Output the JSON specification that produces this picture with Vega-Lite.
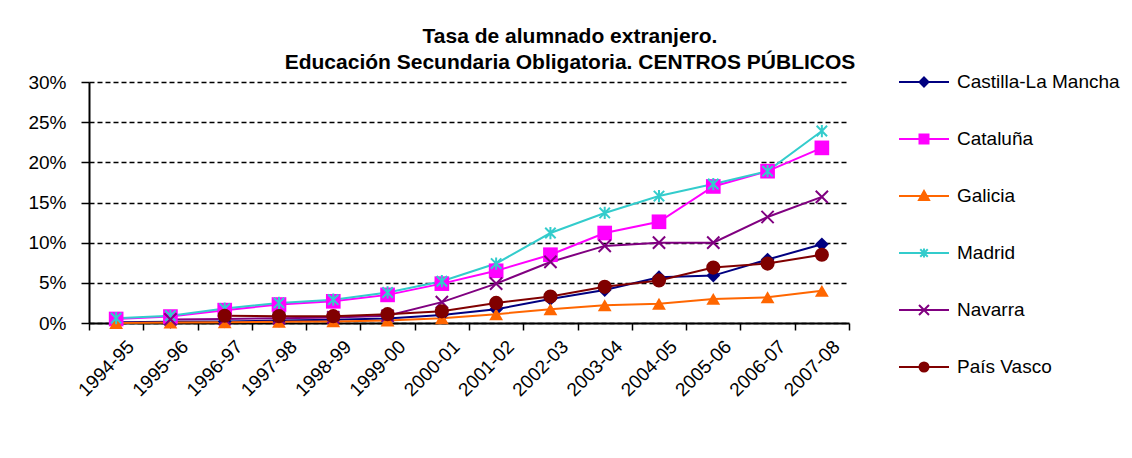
{
  "$schema": "https://vega.github.io/schema/vega-lite/v6.json",
  "width": 760,
  "height": 241,
  "autosize": {"type": "none"},
  "padding": {"left": 89, "top": 82, "right": 283, "bottom": 135},
  "background": "white",
  "title": {
    "text": ["Tasa de alumnado extranjero.", "Educación Secundaria Obligatoria. CENTROS PÚBLICOS"],
    "font": "Liberation Sans",
    "fontSize": 21,
    "fontWeight": "bold",
    "color": "black",
    "anchor": "middle",
    "frame": "group",
    "dx": 101,
    "lineHeight": 26,
    "baseline": "bottom",
    "offset": -38
  },
  "config": {
    "view": {"stroke": null},
    "axis": {"labelFont": "Liberation Sans", "labelColor": "black", "labelFontSize": 19}
  },
  "data": {
    "values": [
      {"region": "Castilla-La Mancha", "year": "1994-95", "rate": 0.001},
      {"region": "Castilla-La Mancha", "year": "1995-96", "rate": 0.0015},
      {"region": "Castilla-La Mancha", "year": "1996-97", "rate": 0.002},
      {"region": "Castilla-La Mancha", "year": "1997-98", "rate": 0.003},
      {"region": "Castilla-La Mancha", "year": "1998-99", "rate": 0.004},
      {"region": "Castilla-La Mancha", "year": "1999-00", "rate": 0.0055},
      {"region": "Castilla-La Mancha", "year": "2000-01", "rate": 0.010},
      {"region": "Castilla-La Mancha", "year": "2001-02", "rate": 0.017},
      {"region": "Castilla-La Mancha", "year": "2002-03", "rate": 0.030},
      {"region": "Castilla-La Mancha", "year": "2003-04", "rate": 0.041},
      {"region": "Castilla-La Mancha", "year": "2004-05", "rate": 0.057},
      {"region": "Castilla-La Mancha", "year": "2005-06", "rate": 0.059},
      {"region": "Castilla-La Mancha", "year": "2006-07", "rate": 0.079},
      {"region": "Castilla-La Mancha", "year": "2007-08", "rate": 0.098},
      {"region": "Cataluña", "year": "1994-95", "rate": 0.005},
      {"region": "Cataluña", "year": "1995-96", "rate": 0.008},
      {"region": "Cataluña", "year": "1996-97", "rate": 0.016},
      {"region": "Cataluña", "year": "1997-98", "rate": 0.023},
      {"region": "Cataluña", "year": "1998-99", "rate": 0.027},
      {"region": "Cataluña", "year": "1999-00", "rate": 0.035},
      {"region": "Cataluña", "year": "2000-01", "rate": 0.049},
      {"region": "Cataluña", "year": "2001-02", "rate": 0.065},
      {"region": "Cataluña", "year": "2002-03", "rate": 0.085},
      {"region": "Cataluña", "year": "2003-04", "rate": 0.112},
      {"region": "Cataluña", "year": "2004-05", "rate": 0.126},
      {"region": "Cataluña", "year": "2005-06", "rate": 0.170},
      {"region": "Cataluña", "year": "2006-07", "rate": 0.189},
      {"region": "Cataluña", "year": "2007-08", "rate": 0.218},
      {"region": "Galicia", "year": "1994-95", "rate": 0.0},
      {"region": "Galicia", "year": "1995-96", "rate": 0.0005},
      {"region": "Galicia", "year": "1996-97", "rate": 0.001},
      {"region": "Galicia", "year": "1997-98", "rate": 0.0015},
      {"region": "Galicia", "year": "1998-99", "rate": 0.002},
      {"region": "Galicia", "year": "1999-00", "rate": 0.003},
      {"region": "Galicia", "year": "2000-01", "rate": 0.006},
      {"region": "Galicia", "year": "2001-02", "rate": 0.011},
      {"region": "Galicia", "year": "2002-03", "rate": 0.017},
      {"region": "Galicia", "year": "2003-04", "rate": 0.022},
      {"region": "Galicia", "year": "2004-05", "rate": 0.024},
      {"region": "Galicia", "year": "2005-06", "rate": 0.030},
      {"region": "Galicia", "year": "2006-07", "rate": 0.032},
      {"region": "Galicia", "year": "2007-08", "rate": 0.040},
      {"region": "Madrid", "year": "1994-95", "rate": 0.006},
      {"region": "Madrid", "year": "1995-96", "rate": 0.009},
      {"region": "Madrid", "year": "1996-97", "rate": 0.018},
      {"region": "Madrid", "year": "1997-98", "rate": 0.025},
      {"region": "Madrid", "year": "1998-99", "rate": 0.029},
      {"region": "Madrid", "year": "1999-00", "rate": 0.038},
      {"region": "Madrid", "year": "2000-01", "rate": 0.052},
      {"region": "Madrid", "year": "2001-02", "rate": 0.074},
      {"region": "Madrid", "year": "2002-03", "rate": 0.112},
      {"region": "Madrid", "year": "2003-04", "rate": 0.137},
      {"region": "Madrid", "year": "2004-05", "rate": 0.158},
      {"region": "Madrid", "year": "2005-06", "rate": 0.173},
      {"region": "Madrid", "year": "2006-07", "rate": 0.189},
      {"region": "Madrid", "year": "2007-08", "rate": 0.239},
      {"region": "Navarra", "year": "1995-96", "rate": 0.0045},
      {"region": "Navarra", "year": "1996-97", "rate": 0.005},
      {"region": "Navarra", "year": "1997-98", "rate": 0.006},
      {"region": "Navarra", "year": "1998-99", "rate": 0.007},
      {"region": "Navarra", "year": "1999-00", "rate": 0.009},
      {"region": "Navarra", "year": "2000-01", "rate": 0.026},
      {"region": "Navarra", "year": "2001-02", "rate": 0.049},
      {"region": "Navarra", "year": "2002-03", "rate": 0.076},
      {"region": "Navarra", "year": "2003-04", "rate": 0.096},
      {"region": "Navarra", "year": "2004-05", "rate": 0.100},
      {"region": "Navarra", "year": "2005-06", "rate": 0.100},
      {"region": "Navarra", "year": "2006-07", "rate": 0.132},
      {"region": "Navarra", "year": "2007-08", "rate": 0.157},
      {"region": "País Vasco", "year": "1996-97", "rate": 0.009},
      {"region": "País Vasco", "year": "1997-98", "rate": 0.0085},
      {"region": "País Vasco", "year": "1998-99", "rate": 0.0085},
      {"region": "País Vasco", "year": "1999-00", "rate": 0.011},
      {"region": "País Vasco", "year": "2000-01", "rate": 0.0145},
      {"region": "País Vasco", "year": "2001-02", "rate": 0.025},
      {"region": "País Vasco", "year": "2002-03", "rate": 0.033},
      {"region": "País Vasco", "year": "2003-04", "rate": 0.045},
      {"region": "País Vasco", "year": "2004-05", "rate": 0.053},
      {"region": "País Vasco", "year": "2005-06", "rate": 0.069},
      {"region": "País Vasco", "year": "2006-07", "rate": 0.074},
      {"region": "País Vasco", "year": "2007-08", "rate": 0.085}
    ]
  },
  "encoding": {
    "x": {
      "field": "year",
      "type": "nominal",
      "sort": ["1994-95","1995-96","1996-97","1997-98","1998-99","1999-00","2000-01","2001-02","2002-03","2003-04","2004-05","2005-06","2006-07","2007-08"],
      "scale": {"type": "band", "paddingInner": 0, "paddingOuter": 0},
      "bandPosition": 0.5,
      "axis": {
        "title": null,
        "labelAngle": -45,
        "labelAlign": "right",
        "labelBaseline": "top",
        "labelPadding": 7,
        "labelOffset": 8,
        "labelOverlap": false,
        "tickBand": "extent",
        "tickSize": 7,
        "tickColor": "black",
        "tickWidth": 1.5,
        "domainColor": "black",
        "domainWidth": 2,
        "grid": false
      }
    },
    "y": {
      "field": "rate",
      "type": "quantitative",
      "scale": {"domain": [0, 0.3], "nice": false, "zero": true},
      "axis": {
        "title": null,
        "format": ".0%",
        "values": [0, 0.05, 0.1, 0.15, 0.2, 0.25, 0.3],
        "tickSize": 8,
        "tickColor": "black",
        "tickWidth": 1.5,
        "domainColor": "black",
        "domainWidth": 2,
        "labelPadding": 15,
        "grid": true,
        "gridColor": "black",
        "gridDash": [5, 3],
        "gridWidth": 1.5
      }
    },
    "color": {
      "field": "region",
      "type": "nominal",
      "scale": {
        "domain": ["Castilla-La Mancha", "Cataluña", "Galicia", "Madrid", "Navarra", "País Vasco"],
        "range": ["#000080", "#FF00FF", "#FF6600", "#33CCCC", "#800080", "#800000"]
      },
      "legend": {
        "title": null,
        "orient": "none",
        "legendX": 809,
        "legendY": -26,
        "padding": 0,
        "symbolSize": 2500,
        "symbolStrokeWidth": 2,
        "labelFont": "Liberation Sans",
        "labelFontSize": 19,
        "labelColor": "black",
        "labelOffset": 7,
        "labelLimit": 300,
        "rowPadding": 21,
        "encode": {
          "symbols": {
            "update": {
              "shape": {"signal": "datum.value === 'Castilla-La Mancha' ? 'M-1,0H1M0,-0.18L0.18,0L0,0.18L-0.18,0Z' : datum.value === 'Cataluña' ? 'M-1,0H1M-0.18,-0.18H0.18V0.18H-0.18Z' : datum.value === 'Galicia' ? 'M-1,0H1M0,-0.2L0.2,0.16L-0.2,0.16Z' : datum.value === 'Madrid' ? 'M-1,0H1M-0.15,-0.15L0.15,0.15M-0.15,0.15L0.15,-0.15M0,-0.18V0.18' : datum.value === 'Navarra' ? 'M-1,0H1M-0.2,-0.2L0.2,0.2M-0.2,0.2L0.2,-0.2' : 'M-1,0H1M0.18,0A0.18,0.18 0 1,1 -0.18,0A0.18,0.18 0 1,1 0.18,0Z'"},
              "fill": {"signal": "scale('color', datum.value)"},
              "stroke": {"signal": "scale('color', datum.value)"},
              "strokeWidth": {"value": 2},
              "size": {"value": 2500},
              "opacity": {"value": 1}
            }
          }
        }
      }
    }
  },
  "layer": [
    {"mark": {"type": "line", "strokeWidth": 2}},
    {
      "transform": [{"filter": "datum.region === 'Castilla-La Mancha'"}],
      "mark": {"type": "point", "shape": "diamond", "filled": true, "opacity": 1, "size": 190}
    },
    {
      "transform": [{"filter": "datum.region === 'Cataluña'"}],
      "mark": {"type": "point", "shape": "square", "filled": true, "opacity": 1, "size": 215}
    },
    {
      "transform": [{"filter": "datum.region === 'Galicia'"}],
      "mark": {"type": "point", "shape": "triangle-up", "filled": true, "opacity": 1, "size": 190}
    },
    {
      "transform": [{"filter": "datum.region === 'Madrid'"}],
      "mark": {"type": "point", "shape": "M-0.85,-0.85L0.85,0.85M-0.85,0.85L0.85,-0.85M0,-1V1", "filled": false, "opacity": 1, "size": 150, "strokeWidth": 2}
    },
    {
      "transform": [{"filter": "datum.region === 'Navarra'"}],
      "mark": {"type": "point", "shape": "M-1,-1L1,1M-1,1L1,-1", "filled": false, "opacity": 1, "size": 150, "strokeWidth": 2}
    },
    {
      "transform": [{"filter": "datum.region === 'País Vasco'"}],
      "mark": {"type": "point", "shape": "circle", "filled": true, "opacity": 1, "size": 200}
    }
  ]
}
